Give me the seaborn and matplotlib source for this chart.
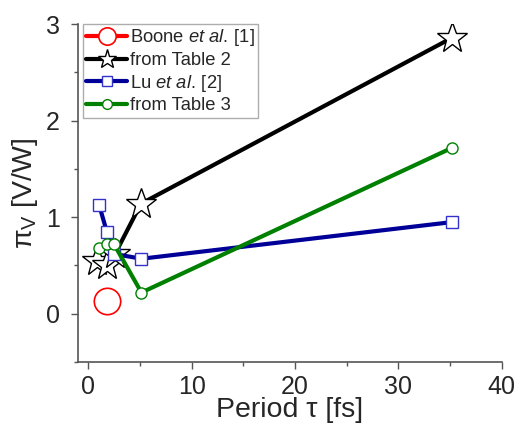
import matplotlib
matplotlib.use("Agg")
import matplotlib.pyplot as plt
import seaborn as sns
import pandas as pd
from matplotlib.ticker import MultipleLocator

# data
boone_x = [1.8]
boone_y = [0.13]
t2_x = [0.9, 1.8, 2.6, 5.1, 35.2]
t2_y = [0.55, 0.50, 0.62, 1.14, 2.86]
lu_x = [1.05, 1.8, 2.5, 5.15, 35.2]
lu_y = [1.13, 0.85, 0.62, 0.57, 0.95]
t3_x = [1.05, 1.8, 2.5, 5.15, 35.2]
t3_y = [0.68, 0.72, 0.72, 0.22, 1.72]

sns.set_style("ticks")
plt.rcParams['font.family'] = ['Liberation Sans', 'DejaVu Sans']
plt.rcParams['mathtext.fontset'] = 'custom'
plt.rcParams['mathtext.rm'] = 'Liberation Sans'
plt.rcParams['mathtext.it'] = 'Liberation Sans:italic'

fig = plt.figure(figsize=(5.19, 4.32), dpi=100)
ax = fig.add_axes([0.150, 0.162, 0.817, 0.782])

series = [
    ("Boone $\\mathit{et\\ al.}\\,$[1]", boone_x, boone_y, "red", "o", 19, "red", 1.2),
    ("from Table 2", t2_x, t2_y, "black", "*", 23, "black", 1.0),
    ("Lu $\\mathit{et\\ al.}\\,$[2]", lu_x, lu_y, "#000099", "s", 8, "#3333cc", 1.0),
    ("from Table 3", t3_x, t3_y, "#008000", "o", 8, "#008000", 1.0),
]
legend_ms = [12.5, 14, 7, 7]

for label, xs, ys, col, mk, ms, mec, mew in series:
    df = pd.DataFrame({"x": xs, "y": ys})
    sns.lineplot(data=df, x="x", y="y", ax=ax, sort=False, color=col,
                 linewidth=3, marker=mk, markersize=ms, markerfacecolor="white",
                 markeredgecolor=mec, markeredgewidth=mew, label=label,
                 zorder=3)

ax.set_xlim(-1, 40)
ax.set_ylim(-0.5, 3)
ax.xaxis.set_major_locator(MultipleLocator(10))
ax.xaxis.set_minor_locator(MultipleLocator(5))
ax.yaxis.set_major_locator(MultipleLocator(1))
ax.yaxis.set_minor_locator(MultipleLocator(0.5))
ax.tick_params(axis='both', which='major', labelsize=18, length=5, width=1,
               direction='out', color='#555555')
ax.tick_params(axis='both', which='minor', length=3, width=1,
               direction='out', color='#555555')
ax.tick_params(axis='y', which='major', pad=8)
ax.tick_params(axis='x', which='major', pad=4)
for s in ['top', 'right']:
    ax.spines[s].set_visible(False)
for s in ['left', 'bottom']:
    ax.spines[s].set_color('#555555')
    ax.spines[s].set_linewidth(1.2)

ax.set_xlabel("Period τ [fs]", fontsize=20.5, labelpad=-1)
ax.set_ylabel("π$_\\mathrm{V}$ [V/W]", fontsize=20.5, labelpad=4)

leg = ax.legend(loc='upper left', bbox_to_anchor=(0.012, 1.0), borderaxespad=0,
                fontsize=13.2, frameon=True, fancybox=False, handlelength=2.25,
                handletextpad=0.15, labelspacing=0.2, borderpad=0.18)
leg.get_frame().set_edgecolor('#999999')
leg.get_frame().set_linewidth(1)
for h, m in zip(leg.legend_handles, legend_ms):
    h.set_markersize(m)

fig.savefig("out.png", dpi=100)
